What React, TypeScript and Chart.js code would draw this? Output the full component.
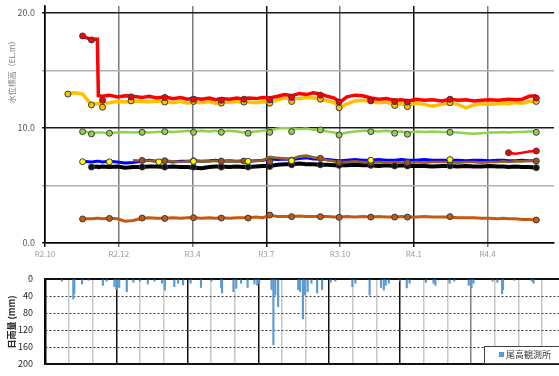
import { useEffect, useRef } from "react";
import { Chart, registerables } from "chart.js";

Chart.register(...registerables);

const FONT = '"Noto Sans CJK JP", "Noto Sans", sans-serif';

// ---- axis ticks ----
const xTickMonths = [0, 3, 6, 9, 12, 15, 18];
const xTickLabels = ["R2.10", "R2.12", "R3.4", "R3.7", "R3.10", "R4.1", "R4.4"];
const levelTicks = [0, 5, 10, 15, 20];
const rainTicks = [0, 40, 80, 120, 160, 200];
const rainGridMonths = [0, 1, 2, 3, 4, 5, 6, 7, 8, 9, 10, 11, 12, 13, 14, 15, 16, 17, 18, 19, 20];

// ---- water level (logger) series, x = months since R2.10 ----
const levelMonths = [
  0.93, 1.25, 1.53, 1.89, 2.13, 2.17, 2.34, 2.62, 2.94, 3.26,
  3.58, 3.95, 4.23, 4.55, 4.87, 5.2, 5.52, 5.8, 6.04, 6.36,
  6.69, 6.93, 7.17, 7.49, 7.81, 8.05, 8.26, 8.58, 8.86, 9.14,
  9.46, 9.75, 10.03, 10.35, 10.63, 10.91, 11.2, 11.48, 11.76, 12.0,
  12.28, 12.61, 12.93, 13.25, 13.57, 13.89, 14.22, 14.5, 14.78, 15.1,
  15.42, 15.75, 16.15, 16.47, 16.79, 17.12, 17.44, 17.76, 18.08, 18.41,
  18.65, 18.85, 19.13, 19.41, 19.69, 19.98,
];
const redLevel = [
  null, null, 17.95, 17.7, 17.7, 12.8, 12.75, 12.85, 12.7, 12.8,
  12.75, 12.65, 12.75, 12.6, 12.7, 12.55, 12.65, 12.5, 12.6, 12.5,
  12.6, 12.45, 12.55, 12.5, 12.6, 12.5, 12.6, 12.55, 12.65, 12.6,
  12.75, 12.9, 12.8, 13.0, 12.9, 13.05, 12.95, 12.75, 12.6, 12.25,
  12.7, 12.85, 12.8, 12.6, 12.5, 12.55, 12.4, 12.45, 12.35, 12.5,
  12.4, 12.45, 12.35, 12.5, 12.4, 12.45, 12.35, 12.4, 12.45, 12.4,
  12.45, 12.5, 12.45, 12.5, 12.75, 12.8,
];
const orangeLevel = [
  13.0, 13.05, 12.95, 12.05, 12.1, 12.1, 12.15, 12.2, 12.3, 12.25,
  12.35, 12.3, 12.25, 12.35, 12.3, 12.2, 12.3, 12.15, 12.25, 12.2,
  12.3, 12.15, 12.2, 12.25, 12.3, 12.2, 12.25, 12.2, 12.3, 12.2,
  12.45, 12.6, 12.5, 12.55, 12.65, 12.6, 12.5, 12.35, 12.2, 11.75,
  12.1, 12.35, 12.4, 12.3, 12.2, 12.25, 12.05, 12.1, 12.0, 12.15,
  12.05, 11.9, 12.05, 12.15, 12.05, 11.75, 12.0, 12.1, 12.05, 12.1,
  12.15, 12.1, 12.2, 12.15, 12.3, 12.35,
];
const greenLevel = [
  null, null, 9.75, 9.55, 9.6, 9.6, 9.6, 9.55, 9.6, 9.65,
  9.6, 9.65, 9.6, 9.65, 9.7, 9.65, 9.7, 9.75, 9.7, 9.75,
  9.7, 9.75, 9.7, 9.75, 9.7, 9.6, 9.65, 9.7, 9.75, 9.8,
  9.95, 10.0, 9.95, 9.9, 9.95, 9.85, 9.85, 9.7, 9.6, 9.45,
  9.6, 9.7, 9.75, 9.75, 9.7, 9.75, 9.65, 9.7, 9.6, 9.7,
  9.65, 9.7, 9.65, 9.65, 9.6, 9.55, 9.5, 9.55, 9.6, 9.6,
  9.65, 9.6, 9.65, 9.65, 9.7, 9.7,
];
const blueLevel = [
  null, null, 7.1, 7.05, 7.1, 7.1, 7.05, 7.1, 7.05, 6.95,
  7.0, 7.1, 7.2, 7.1, 7.15, 7.05, 7.1, 7.1, 7.15, 7.1,
  7.15, 7.2, 7.1, 7.15, 7.1, 7.15, 7.1, 7.15, 7.2, 7.3,
  7.25, 7.3, 7.25, 7.35, 7.4, 7.3, 7.3, 7.25, 7.2, 7.15,
  7.2, 7.25, 7.2, 7.2, 7.25, 7.2, 7.2, 7.25, 7.2, 7.2,
  7.25, 7.2, 7.2, 7.2, 7.2, 7.15, 7.2, 7.2, 7.15, 7.2,
  7.2, 7.15, 7.15, 7.2, 7.15, 7.15,
];
const blackLevel = [
  null, null, null, 6.6, 6.65, 6.6, 6.65, 6.6, 6.65, 6.55,
  6.6, 6.6, 6.65, 6.65, 6.6, 6.65, 6.6, 6.6, 6.55, 6.5,
  6.6, 6.65, 6.65, 6.6, 6.65, 6.6, 6.6, 6.65, 6.7, 6.7,
  6.8, 6.85, 6.85, 6.9, 6.85, 6.85, 6.8, 6.8, 6.75, 6.75,
  6.75, 6.8, 6.75, 6.75, 6.7, 6.75, 6.7, 6.75, 6.7, 6.7,
  6.7, 6.65, 6.7, 6.7, 6.65, 6.7, 6.65, 6.65, 6.7, 6.65,
  6.65, 6.6, 6.65, 6.6, 6.6, 6.55,
];
const brownLevel = [
  null, null, null, null, null, null, null, null, null, null,
  7.2, 7.15, 7.15, 7.1, 7.15, 7.1, 7.05, 7.1, 7.15, 7.1,
  7.1, 7.15, 7.1, 7.1, 7.1, 7.1, 7.1, 7.15, 7.2, 7.5,
  7.4, 7.35, 7.3, 7.55, 7.6, 7.45, 7.35, 7.2, 7.1, 7.05,
  7.05, 7.1, 7.05, 7.0, 7.05, 7.0, 7.05, 7.0, 7.0, 7.05,
  7.0, 7.05, 7.05, 7.05, 7.0, 7.05, 7.05, 7.0, 7.05, 7.05,
  7.1, 7.05, 7.1, 7.1, 7.15, 7.15,
];
const darkGreenLevel = [
  null, null, null, null, null, null, null, null, null, null,
  null, null, 7.1, 7.05, 7.1, 7.05, 7.0, 7.05, 7.1, 7.05,
  7.05, 7.1, 7.05, 7.05, 7.05, 7.05, 7.05, 7.1, 7.15, 7.4,
  7.35, 7.3, 7.25, 7.45, 7.5, 7.4, 7.3, 7.15, 7.05, 7.0,
  7.0, 7.05, 7.0, 6.95, 7.0, 6.95, 7.0, 6.95, 6.95, 7.0,
  6.95, 7.0, 7.0, 7.0, 6.95, 7.0, 7.0, 6.95, 7.0, 7.0,
  7.05, 7.0, 7.05, 7.05, 7.1, 7.1,
];
const rustLevel = [
  null, null, 2.1, 2.1, 2.15, 2.15, 2.1, 2.15, 2.1, 1.9,
  1.95, 2.15, 2.2, 2.15, 2.15, 2.2, 2.15, 2.2, 2.2, 2.15,
  2.2, 2.15, 2.2, 2.15, 2.2, 2.2, 2.2, 2.25, 2.2, 2.4,
  2.3, 2.3, 2.3, 2.35, 2.3, 2.3, 2.3, 2.3, 2.25, 2.25,
  2.3, 2.25, 2.3, 2.25, 2.3, 2.25, 2.25, 2.3, 2.25, 2.25,
  2.3, 2.25, 2.25, 2.25, 2.2, 2.2, 2.2, 2.15, 2.15, 2.1,
  2.15, 2.1, 2.1, 2.05, 2.05, 2.0,
];
const red2Months = [18.85, 19.13, 19.41, 19.69, 19.98];
const red2Level = [7.85, 7.75, 7.85, 7.95, 8.0];

// ---- manual observations (markers) ----
const obsMonths = [
  0.93, 1.53, 1.89, 2.34, 2.62, 3.5, 3.95, 4.63, 4.87, 6.04, 7.17, 8.09,
  8.26, 9.14, 10.03, 11.2, 11.96, 13.25, 14.22, 14.74, 16.47, 18.85, 19.98,
];
const redObs = [null, 18.0, 17.65, 12.4, null, 12.7, null, null, 12.65, 12.5, 12.4, 12.5, null, 12.45, 12.65, 12.85, 12.25, 12.4, 12.3, 12.25, 12.5, null, 12.6];
const orangeObs = [12.95, null, 12.0, 11.8, null, 12.35, null, null, 12.25, 12.3, 12.15, 12.25, null, 12.15, 12.3, 12.5, 11.75, 12.35, 11.95, 11.85, 12.2, null, 12.3];
const greenObs = [null, 9.68, 9.48, null, 9.54, null, 9.62, null, 9.68, 9.62, 9.62, null, 9.54, 9.62, 9.68, 9.83, 9.39, 9.68, 9.54, 9.45, 9.62, null, 9.62];
const yellowObs = [null, 7.07, null, null, 7.05, null, null, 7.05, null, 7.1, null, null, 7.1, null, 7.15, null, null, 7.2, null, null, 7.25, null, null];
const brownObs = [null, null, null, null, null, null, 7.18, null, 7.15, 7.15, 7.12, 7.12, null, 7.07, 7.2, 7.36, 7.0, 7.0, null, 7.0, 7.07, null, 7.13];
const blackObs = [null, null, 6.6, null, null, null, 6.6, null, 6.6, 6.6, 6.6, null, 6.6, 6.65, 6.8, 6.8, 6.75, 6.75, 6.7, 6.7, 6.7, null, 6.55];
const rustObs = [null, 2.09, null, null, 2.14, null, 2.17, null, 2.14, 2.2, 2.17, null, 2.17, 2.43, 2.29, 2.29, 2.23, 2.25, 2.25, 2.25, 2.29, null, 2.0];

// ---- daily rainfall (mm) ----
const rainMonths = [
  0.2, 0.68, 0.72, 1.05, 1.33, 1.93, 2.09, 2.42, 2.5, 2.62, 2.94, 3.22, 3.5, 3.83,
  4.11, 4.43, 4.55, 4.95, 5.11, 5.32, 5.64, 6.08, 6.52, 6.93, 6.97, 7.45, 7.57,
  7.77, 8.05, 8.34, 8.46, 8.54, 9.06, 9.14, 9.22, 9.34, 10.19, 10.27, 10.39,
  10.47, 10.59, 10.75, 10.99, 11.2, 11.56, 11.76, 12.48, 12.61, 13.21, 13.69,
  13.81, 13.89, 14.02, 14.5, 14.78, 14.9, 15.59, 15.91, 15.99, 16.59, 16.79,
  17.4, 17.52, 17.6, 18.41, 18.61, 18.81, 18.85, 19.33, 20.06, 20.14,
];
const rainValues = [
  5, 47, 35, 12, 3, 15, 5, 18, 25, 20, 30, 8, 5, 12,
  5, 10, 26, 18, 10, 14, 10, 20, 5, 20, 33, 30, 22,
  10, 20, 12, 15, 10, 25, 155, 38, 65, 25, 30, 94,
  38, 30, 10, 33, 25, 8, 5, 18, 10, 38, 20,
  26, 15, 10, 5, 21, 10, 8, 10, 15, 10, 5,
  15, 21, 10, 5, 8, 35, 25, 3, 5, 10,
];

const pts = (xs: number[], ys: (number | null)[]) => xs.map((x, i) => ({ x, y: ys[i] }));

const sideTitle = {
  id: "sideTitle",
  afterDraw(chart: any, _a: any, opts: any) {
    if (!opts || !opts.text) return;
    const ctx = chart.ctx;
    ctx.save();
    ctx.translate(opts.x, opts.y);
    ctx.rotate(-Math.PI / 2);
    ctx.font = opts.font;
    ctx.fillStyle = opts.color;
    ctx.textAlign = "center";
    ctx.textBaseline = "middle";
    ctx.fillText(opts.text, 0, 0);
    ctx.restore();
  },
};

const boxLegend = {
  id: "boxLegend",
  afterDraw(chart: any, _a: any, opts: any) {
    if (!opts || !opts.text) return;
    const ctx = chart.ctx;
    ctx.save();
    ctx.fillStyle = "#ffffff";
    ctx.fillRect(opts.x, opts.y, opts.w, opts.h);
    ctx.strokeStyle = "#404040";
    ctx.lineWidth = 1;
    ctx.strokeRect(opts.x + 0.5, opts.y + 0.5, opts.w, opts.h);
    ctx.fillStyle = opts.swatch;
    ctx.fillRect(opts.x + 15, opts.y + 6, 5, 5);
    ctx.font = opts.font;
    ctx.fillStyle = "#404040";
    ctx.textAlign = "left";
    ctx.textBaseline = "middle";
    ctx.fillText(opts.text, opts.x + 22, opts.y + opts.h / 2 + 0.5);
    ctx.restore();
  },
};

function lineDs(label: string, xs: number[], ys: (number | null)[], color: string, width: number) {
  return {
    type: "line" as const,
    label,
    data: pts(xs, ys),
    borderColor: color,
    backgroundColor: color,
    borderWidth: width,
    pointRadius: 0,
    tension: 0,
    spanGaps: false,
    fill: false,
  };
}

function obsDs(label: string, ys: (number | null)[], fillColor: string) {
  return {
    type: "scatter" as const,
    label,
    data: pts(obsMonths, ys),
    pointRadius: 3,
    pointBackgroundColor: fillColor,
    pointBorderColor: "#3a3a3a",
    pointBorderWidth: 1,
    showLine: false,
  };
}

const noPadV = (s: any) => {
  s.paddingTop = 0;
  s.paddingBottom = 0;
};
const noPadH = (s: any) => {
  s.paddingLeft = 0;
  s.paddingRight = 0;
};

export default function App() {
  const topRef = useRef<HTMLCanvasElement>(null);
  const botRef = useRef<HTMLCanvasElement>(null);

  useEffect(() => {
    const top = new Chart(topRef.current as HTMLCanvasElement, {
      type: "line",
      plugins: [sideTitle],
      data: {
        datasets: [
          obsDs("赤 観測", redObs, "#ff0000"),
          obsDs("橙 観測", orangeObs, "#ffc000"),
          obsDs("緑 観測", greenObs, "#92d050"),
          obsDs("黄 観測", yellowObs, "#ffff00"),
          obsDs("茶 観測", brownObs, "#a0521e"),
          obsDs("黒 観測", blackObs, "#111111"),
          obsDs("錆 観測", rustObs, "#c65911"),
          {
            ...lineDs("赤2", red2Months, red2Level, "#ff0000", 2.5),
            pointRadius: [3, 0, 0, 0, 3],
            pointBackgroundColor: "#ff0000",
            pointBorderColor: "#3a3a3a",
            pointBorderWidth: 1,
          },
          lineDs("赤", levelMonths, redLevel, "#ff0000", 3.5),
          lineDs("橙", levelMonths, orangeLevel, "#ffc000", 3.5),
          lineDs("緑", levelMonths, greenLevel, "#92d050", 2.5),
          lineDs("茶", levelMonths, brownLevel, "#9c5b24", 2.5),
          lineDs("深緑", levelMonths, darkGreenLevel, "#00b050", 1.2),
          lineDs("青", levelMonths, blueLevel, "#0000ff", 3),
          lineDs("黒", levelMonths, blackLevel, "#000000", 4),
          lineDs("錆", levelMonths, rustLevel, "#c65911", 3),
        ] as any,
      },
      options: {
        responsive: false,
        animation: false,
        events: [],
        layout: { padding: { top: 6, left: 0, right: 0, bottom: 0 } },
        plugins: {
          legend: { display: false },
          tooltip: { enabled: false },
          sideTitle: {
            text: "水位標高（EL.m）",
            x: 12,
            y: 70,
            font: `8px ${FONT}`,
            color: "#7f7f7f",
          },
        } as any,
        scales: {
          x: {
            type: "linear",
            min: 0,
            max: 20.7,
            afterBuildTicks: (s: any) => {
              s.ticks = xTickMonths.map((v) => ({ value: v }));
            },
            afterFit: (s: any) => {
              s.height = 19;
              noPadH(s);
            },
            ticks: {
              autoSkip: false,
              maxRotation: 0,
              padding: 2,
              color: "#9a9a9a",
              font: { family: FONT, size: 8 },
              callback: (v: any) => {
                const i = xTickMonths.indexOf(Number(v));
                return i >= 0 ? xTickLabels[i] : "";
              },
            },
            grid: {
              lineWidth: 1.5,
              tickLength: 4,
              color: (ctx: any) => {
                const v = ctx.tick ? ctx.tick.value : -1;
                if (v === 0 || v === 9 || v === 15) return "#111111";
                return "#7a7a7a";
              },
            },
            border: { display: true, color: "#000000", width: 1.5 },
          },
          y: {
            type: "linear",
            min: 0,
            max: 20.6,
            afterBuildTicks: (s: any) => {
              s.ticks = levelTicks.map((v) => ({ value: v }));
            },
            afterFit: (s: any) => {
              s.width = 45;
              noPadV(s);
            },
            ticks: {
              padding: 7,
              color: "#595959",
              font: { family: FONT, size: 9 },
              callback: (v: any) => (Number(v) % 10 === 0 ? Number(v).toFixed(1) : ""),
            },
            grid: {
              lineWidth: 1.5,
              tickLength: 3,
              color: (ctx: any) => {
                const v = ctx.tick ? ctx.tick.value : -1;
                if (v === 0 || v === 10 || v === 20) return "#1a1a1a";
                return "#b0b0b0";
              },
            },
            border: { display: true, color: "#000000", width: 1.5 },
          },
        },
      },
    });

    const bot = new Chart(botRef.current as HTMLCanvasElement, {
      type: "bar",
      plugins: [sideTitle, boxLegend],
      data: {
        datasets: [
          {
            label: "尾高観測所",
            data: pts(rainMonths, rainValues),
            backgroundColor: "#5b9bd5",
            borderWidth: 0,
            barThickness: 1.5,
            grouped: false,
          } as any,
        ],
      },
      options: {
        responsive: false,
        animation: false,
        events: [],
        layout: { padding: { top: 17, left: 0, right: 0, bottom: 0 } },
        plugins: {
          legend: { display: false },
          tooltip: { enabled: false },
          sideTitle: {
            text: "日雨量 (mm)",
            x: 12,
            y: 60,
            font: `bold 9px ${FONT}`,
            color: "#262626",
          },
          boxLegend: {
            text: "尾高観測所",
            x: 484,
            y: 84,
            w: 80,
            h: 17,
            swatch: "#5b9bd5",
            font: `9px ${FONT}`,
          },
        } as any,
        scales: {
          x: {
            type: "linear",
            min: 0,
            max: 20.7,
            afterBuildTicks: (s: any) => {
              s.ticks = rainGridMonths.map((v) => ({ value: v }));
            },
            afterFit: (s: any) => {
              s.height = 12;
              noPadH(s);
            },
            ticks: { display: false },
            grid: {
              drawTicks: false,
              lineWidth: 1.5,
              color: (ctx: any) => {
                const v = ctx.tick ? ctx.tick.value : -1;
                if (v === 18) return "#808080";
                if (v % 3 === 0) return "#111111";
                return "#c8c8c8";
              },
            },
            border: { display: false },
          },
          y: {
            type: "linear",
            reverse: true,
            min: 0,
            max: 200,
            afterBuildTicks: (s: any) => {
              s.ticks = rainTicks.map((v) => ({ value: v }));
            },
            afterFit: (s: any) => {
              s.width = 45;
              noPadV(s);
            },
            ticks: {
              padding: 12,
              color: "#262626",
              font: { family: FONT, size: 9 },
            },
            grid: {
              drawTicks: false,
              lineWidth: (ctx: any) => {
                const v = ctx.tick ? ctx.tick.value : -1;
                return v === 0 || v === 200 ? 2 : 1;
              },
              color: (ctx: any) => {
                const v = ctx.tick ? ctx.tick.value : -1;
                return v === 0 || v === 200 ? "#111111" : "#404040";
              },
            },
            border: {
              display: true,
              color: "#000000",
              width: 1.5,
              dash: (ctx: any) => {
                if (!ctx.tick) return [];
                const v = ctx.tick.value;
                return v === 0 || v === 200 ? [] : [2, 2];
              },
            },
          },
        },
      },
    });

    return () => {
      top.destroy();
      bot.destroy();
    };
  }, []);

  return (
    <div
      style={{
        position: "fixed",
        left: 0,
        top: 0,
        width: 559,
        height: 376,
        overflow: "hidden",
        background: "#ffffff",
      }}
    >
      <canvas ref={topRef} width={559} height={262} style={{ position: "absolute", left: 0, top: 0 }} />
      <canvas ref={botRef} width={559} height={114} style={{ position: "absolute", left: 0, top: 262 }} />
    </div>
  );
}
